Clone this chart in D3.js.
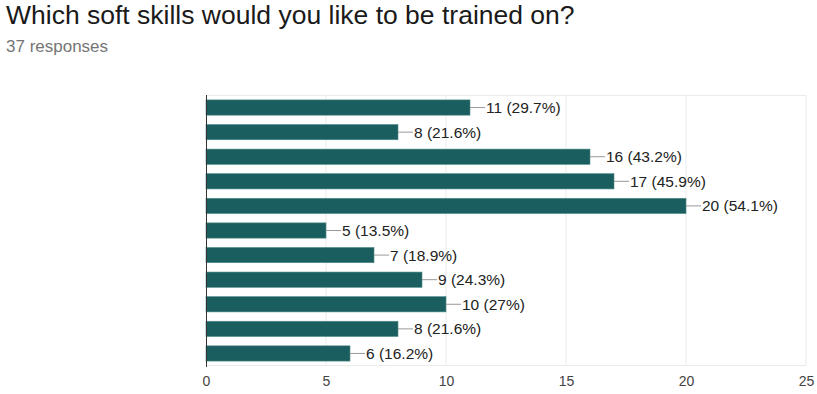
<!DOCTYPE html>
<html><head><meta charset="utf-8">
<script src="https://cdn.jsdelivr.net/npm/d3@7"></script>
<style>body{margin:0;background:#fff}svg{display:block}</style>
</head><body>
<svg id="c" width="817" height="394"></svg>
<script>
const categories = ["Skill 1","Skill 2","Skill 3","Skill 4","Skill 5","Skill 6","Skill 7","Skill 8","Skill 9","Skill 10","Skill 11"];
const counts = [11, 8, 16, 17, 20, 5, 7, 9, 10, 8, 6];
const percents = ["29.7%","21.6%","43.2%","45.9%","54.1%","13.5%","18.9%","24.3%","27%","21.6%","16.2%"];
const xTicks = [0, 5, 10, 15, 20, 25];
const title = "Which soft skills would you like to be trained on?";
const subtitle = "37 responses";

const svg = d3.select("#c");
const font = "'Liberation Sans', Arial, Helvetica, sans-serif";
svg.append("text").attr("x", 6).attr("y", 24).attr("font-family", font).attr("font-size", 26.5)
  .attr("fill", "#1a1a1a").text(title);
svg.append("text").attr("x", 6).attr("y", 52).attr("font-family", font).attr("font-size", 17)
  .attr("fill", "#757575").text(subtitle);

const x = d3.scaleLinear().domain([0, 25]).range([206, 806]);
const y = d3.scaleBand().domain(categories).range([95, 366]).paddingInner(0.38).paddingOuter(0.2);

const g = svg.append("g");
g.selectAll("line.grid").data(xTicks.slice(1)).join("line").attr("class","grid")
  .attr("x1", d => x(d)).attr("x2", d => x(d)).attr("y1", 95).attr("y2", 366)
  .attr("stroke", "#ebebeb");
g.append("line").attr("x1", x(0)).attr("x2", x(25)).attr("y1", 95.5).attr("y2", 95.5).attr("stroke", "#ebebeb");
g.append("line").attr("x1", x(0)).attr("x2", x(25)).attr("y1", 365.5).attr("y2", 365.5).attr("stroke", "#ebebeb");

g.selectAll("rect.bar").data(counts).join("rect").attr("class","bar")
  .attr("x", x(0)).attr("y", (d,i) => y(categories[i]))
  .attr("width", d => x(d) - x(0)).attr("height", y.bandwidth())
  .attr("fill", "#1b5e5f").attr("stroke", "#4f8a8a").attr("stroke-width", 0.6);

g.selectAll("line.lead").data(counts).join("line").attr("class","lead")
  .attr("x1", d => x(d)).attr("x2", d => x(d) + 15)
  .attr("y1", (d,i) => y(categories[i]) + y.bandwidth()/2)
  .attr("y2", (d,i) => y(categories[i]) + y.bandwidth()/2)
  .attr("stroke", "#999").attr("stroke-width", 1);
g.selectAll("text.lab").data(counts).join("text").attr("class","lab")
  .attr("x", d => x(d) + 16)
  .attr("y", (d,i) => y(categories[i]) + y.bandwidth()/2)
  .attr("dy", "0.36em")
  .attr("font-family", font).attr("font-size", 15.5).attr("fill", "#222")
  .text((d,i) => `${d} (${percents[i]})`);

g.append("line").attr("x1", x(0)+0.5).attr("x2", x(0)+0.5).attr("y1", 95).attr("y2", 367)
  .attr("stroke", "#333").attr("stroke-width", 1);

const ax = svg.append("g").attr("transform", "translate(0,366)")
  .call(d3.axisBottom(x).tickValues(xTicks).tickSize(0).tickPadding(10).tickFormat(d3.format("d")));
ax.select(".domain").remove();
ax.selectAll("text").attr("font-family", font).attr("font-size", 14).attr("fill", "#444");
</script>
</body></html>
